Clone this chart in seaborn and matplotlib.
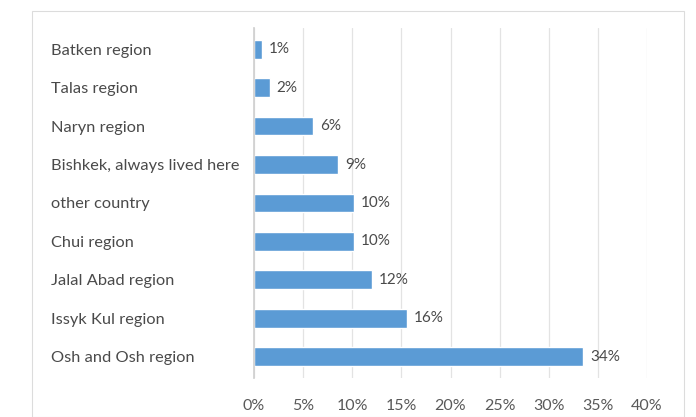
import matplotlib
matplotlib.use("Agg")
import matplotlib.pyplot as plt
import seaborn as sns
import pandas as pd
from matplotlib.patches import Rectangle

categories = ["Batken region", "Talas region", "Naryn region", "Bishkek, always lived here",
              "other country", "Chui region", "Jalal Abad region", "Issyk Kul region",
              "Osh and Osh region"]
values = [0.8, 1.6, 6.0, 8.6, 10.2, 10.2, 12.0, 15.6, 33.5]
value_labels = ["1%", "2%", "6%", "9%", "10%", "10%", "12%", "16%", "34%"]
xticks = [0, 5, 10, 15, 20, 25, 30, 35, 40]
xtick_labels = ["0%", "5%", "10%", "15%", "20%", "25%", "30%", "35%", "40%"]

sns.set_theme(style="white")
plt.rcParams['font.family'] = ['Lato', 'DejaVu Sans']

df = pd.DataFrame({"cat": categories, "val": values})

fig = plt.figure(figsize=(6.96, 4.17), dpi=100)
fig.patches.append(Rectangle((32/696, 0), (684-32)/696, 1 - 11/417, transform=fig.transFigure,
                             fill=False, edgecolor="#dcdcdc", linewidth=0.8))
ax = fig.add_axes([254/696, 1 - 378/417, (647-254)/696, (378-28)/417])

sns.barplot(data=df, x="val", y="cat", order=categories, color="#5B9BD5",
            width=0.49, saturation=1, ax=ax)

ax.set_xlim(0, 40)
ax.set_ylim(8.55, -0.55)
ax.set_xticks(xticks)
ax.set_xticklabels(xtick_labels, color="#595959", fontsize=11.5)
ax.xaxis.grid(True, color="#e3e3e3", linewidth=0.9)
ax.set_axisbelow(True)
ax.set_xlabel("")
ax.set_ylabel("")
for s in ["top", "right", "bottom"]:
    ax.spines[s].set_visible(False)
ax.spines["left"].set_color("#d0d0d0")
ax.tick_params(axis="x", length=0, pad=15)
ax.tick_params(axis="y", length=0, pad=146)
for lbl in ax.get_yticklabels():
    lbl.set_ha("left")
    lbl.set_color("#4a4a4a")
    lbl.set_fontsize(11.8)

for i, (v, t) in enumerate(zip(values, value_labels)):
    ax.annotate(t, (v, i), xytext=(5, 0), textcoords="offset points",
                va="center", ha="left", fontsize=11, color="#4a4a4a")

fig.savefig("out.png", dpi=100)
